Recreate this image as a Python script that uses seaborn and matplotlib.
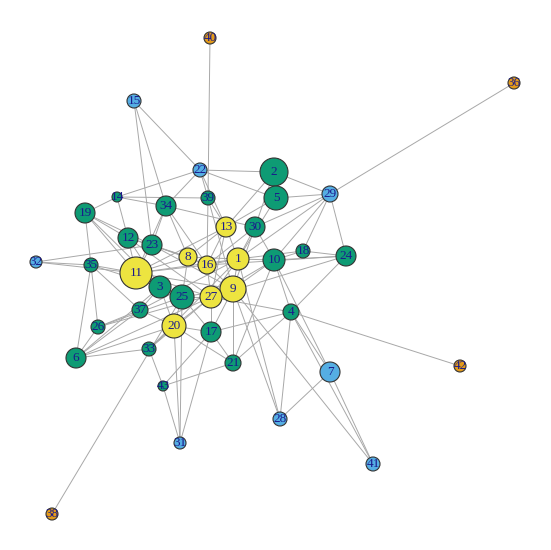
import matplotlib
matplotlib.use('Agg')
import matplotlib.pyplot as plt
import seaborn as sns
import pandas as pd

sns.set_style("white")

# node layout (pixel coords), group and radius
node_ids = [40, 36, 15, 22, 2, 5, 29, 14, 34, 39, 19, 13, 30, 12, 23, 18, 24, 32, 35, 8,
            16, 1, 10, 11, 3, 9, 25, 27, 37, 4, 26, 20, 17, 33, 6, 21, 7, 42, 43, 28,
            31, 41, 38]
node_x = [210, 514, 134, 200, 274, 276, 330, 117, 166, 208, 85, 226, 255, 128, 152, 303, 346, 36, 91, 188,
          207, 238, 274, 136, 160, 233, 182, 211, 140, 291, 98, 174, 211, 149, 76, 233, 330, 460, 163, 280,
          180, 373, 52]
node_y = [38, 83, 101, 170, 172, 198, 194, 197, 206, 198, 213, 227, 227, 238, 245, 251, 256, 262, 265, 257,
          265, 259, 260, 273, 287, 289, 297, 297, 310, 312, 327, 326, 332, 349, 358, 363, 372, 366, 386, 419,
          443, 464, 514]
node_group = ['o', 'o', 'b', 'b', 'g', 'g', 'b', 'g', 'g', 'g', 'g', 'y', 'g', 'g', 'g', 'g', 'g', 'b', 'g', 'y',
              'y', 'y', 'g', 'y', 'g', 'y', 'g', 'y', 'g', 'g', 'g', 'y', 'g', 'g', 'g', 'g', 'b', 'o', 'g', 'b',
              'b', 'b', 'o']
node_r = [6, 6, 7, 7, 14, 12, 8, 5, 10, 7, 10, 10, 10, 10, 10, 7, 10, 6, 7, 9,
          9, 11, 11, 16, 11, 13, 12, 11, 8, 8, 7, 12, 10, 7, 10, 8, 10, 6, 5, 7,
          6, 7, 6]

edges = [(40, 39), (36, 29), (15, 22), (15, 34), (15, 23), (32, 35), (32, 11), (32, 23), (42, 4),
         (41, 7), (41, 9), (41, 4), (38, 25), (7, 4), (7, 10), (7, 28), (28, 4), (28, 9), (28, 1),
         (31, 43), (31, 20), (31, 17), (31, 25), (43, 33), (43, 17), (43, 21), (22, 2), (22, 39),
         (22, 34), (22, 13), (22, 5), (2, 29), (2, 30), (2, 13), (5, 29), (5, 13), (5, 1), (29, 18),
         (29, 10), (29, 30), (29, 24), (29, 1), (14, 34), (14, 39), (14, 12), (14, 22), (34, 11),
         (34, 8), (34, 16), (34, 23), (34, 30), (39, 13), (39, 16), (39, 9), (19, 12), (19, 23),
         (19, 35), (19, 14), (19, 3), (13, 1), (13, 16), (13, 8), (13, 11), (13, 27), (30, 10),
         (30, 1), (30, 9), (30, 16), (12, 23), (12, 11), (12, 8), (12, 3), (23, 8), (23, 11),
         (23, 16), (23, 9), (18, 10), (18, 24), (18, 1), (24, 10), (24, 4), (24, 27), (35, 11),
         (35, 26), (35, 6), (35, 37), (35, 3), (8, 16), (8, 1), (8, 11), (8, 25), (16, 1), (16, 9),
         (16, 27), (16, 11), (1, 10), (1, 9), (1, 27), (1, 11), (10, 9), (10, 4), (10, 27),
         (11, 3), (11, 25), (11, 9), (11, 27), (3, 25), (3, 37), (3, 20), (9, 27), (9, 25), (9, 17),
         (9, 21), (25, 27), (25, 20), (25, 17), (27, 20), (27, 17), (27, 4), (37, 26), (37, 20),
         (37, 6), (37, 1), (4, 17), (4, 21), (26, 6), (26, 9), (20, 17), (20, 33), (20, 6),
         (20, 21), (17, 21), (33, 6), (33, 1), (6, 27), (6, 3), (21, 10), (24, 16), (12, 27),
         (19, 11), (26, 25), (33, 27)]

palette = {'g': '#0E9B74', 'y': '#EDE440', 'b': '#55AEE3', 'o': '#E39B1A'}

nodes = pd.DataFrame({'id': node_ids, 'x': node_x, 'y': node_y,
                      'group': node_group, 'r': node_r})
pos = nodes.set_index('id')

fig = plt.figure(figsize=(5.51, 5.50), dpi=100)
ax = fig.add_axes([0, 0, 1, 1])

for a, b in edges:
    ax.plot([pos.loc[a, 'x'], pos.loc[b, 'x']], [pos.loc[a, 'y'], pos.loc[b, 'y']],
            color='#A8A8A8', lw=0.7, zorder=1)

# radius in px -> marker area in pt^2
nodes['s'] = (2 * nodes['r'] * 0.72) ** 2
sns.scatterplot(data=nodes, x='x', y='y', hue='group', palette=palette, size='s',
                sizes=(nodes['s'].min(), nodes['s'].max()), edgecolor='#333333',
                linewidth=0.8, legend=False, ax=ax, zorder=2)

for _, row in nodes.iterrows():
    ax.text(row['x'], row['y'], str(row['id']), ha='center', va='center',
            color='#1A1A8C', fontsize=9.5, family='Liberation Serif', zorder=3)

ax.set_xlim(0, 551)
ax.set_ylim(550, 0)
ax.axis('off')
fig.savefig('out.png', dpi=100, facecolor='white')
